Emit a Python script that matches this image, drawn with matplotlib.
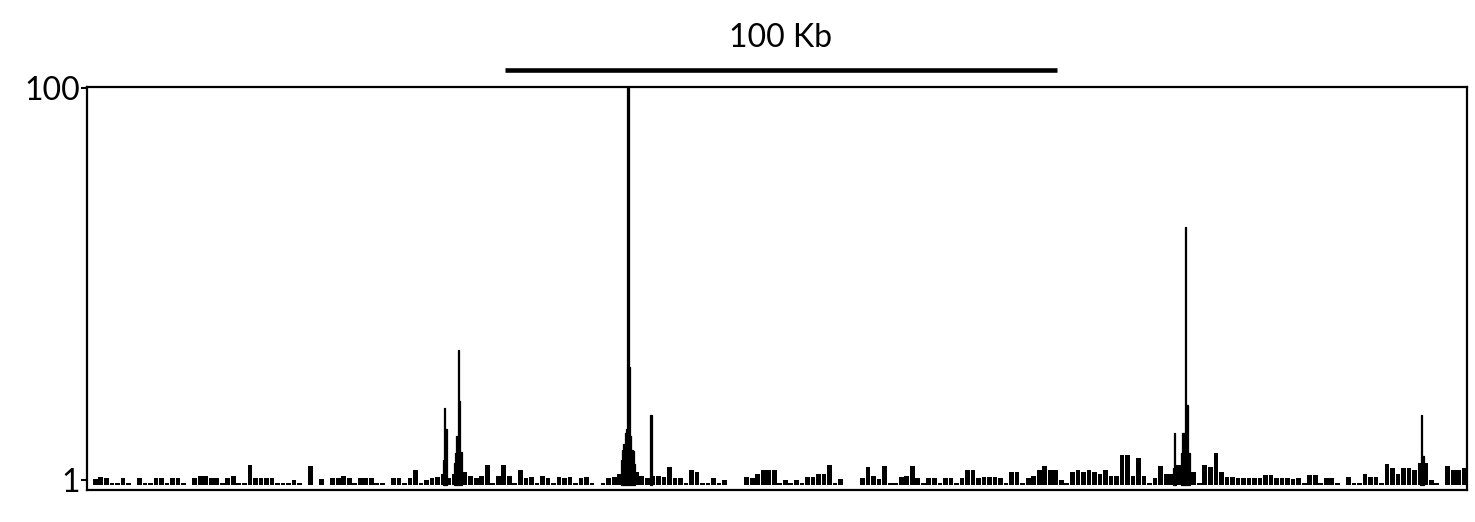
"""
plot.py — genome browser style coverage track (250 Kb window) with 100 Kb scale bar
"""
import numpy as np
import matplotlib; matplotlib.use('Agg')
import matplotlib.pyplot as plt
import matplotlib.transforms as mtransforms

plt.rcParams['font.family'] = ['Lato', 'DejaVu Sans']

WINDOW_KB = 250
SCALE_BAR_KB = (75.7, 175.7)
SCALE_LABEL = '100 Kb'
Y_TICKS = [1, 100]
Y_TICK_LABELS = ['1', '100']

# background signal, one value per 1 Kb bin (0 = no coverage)
BG_000_049 = [0, 1.2, 1.8, 1.5, 0.3, 0.3, 1.5, 0.3, 0, 1.5,
              0.3, 0.3, 1.5, 1.5, 0.3, 1.5, 1.5, 0.3, 0, 1.5,
              2, 2, 1.5, 1.5, 0.3, 1.5, 2, 0.3, 0.3, 4.8,
              1.5, 1.5, 1.5, 1.5, 0.3, 0.3, 0.3, 1.0, 0.3, 0,
              4.5, 0, 1.2, 0, 1.5, 1.5, 2, 1.5, 0.3, 1.5]
BG_050_099 = [1.5, 1.5, 0.3, 0.3, 0, 1.5, 1.5, 0.3, 1.5, 3.5,
              0.3, 1.0, 1.5, 1.8, 2.5, 1.5, 2.5, 3, 3, 2,
              1.5, 2, 4.8, 0.3, 2, 4.8, 2, 0.3, 3.5, 1.5,
              1.8, 0.3, 2, 1.5, 0.3, 1.8, 1.5, 1.8, 0.3, 1.5,
              1.8, 0.3, 0, 0.3, 1.5, 1.8, 2.5, 4, 5, 3]
BG_100_149 = [2, 1.5, 2, 2, 1.8, 4.3, 1.5, 1.5, 0.3, 3.5,
              3, 0.3, 0.3, 1.5, 0.3, 1, 0, 0, 0, 1.8,
              1.5, 2.5, 3.5, 3.5, 3.5, 0.3, 1, 0.3, 1, 0.3,
              1.8, 1.8, 2.5, 2.5, 4.8, 0.3, 1.2, 0, 0, 0,
              1.5, 4.3, 2, 1.2, 4.5, 0.3, 0.3, 1.8, 2, 4.5]
BG_150_199 = [1.5, 0.3, 1.5, 1.5, 0.3, 1.5, 1.5, 0.3, 1.5, 3.6,
              3.6, 1.5, 1.8, 1.8, 1.8, 1.5, 0.3, 3, 3, 0.3,
              1.5, 2, 3.6, 4.5, 3.6, 3.6, 1, 0.3, 3, 3.6,
              3, 3.6, 3, 2.5, 3.5, 2, 2, 7.3, 7.3, 2,
              6.6, 2, 0.3, 1.5, 4.5, 2.5, 2.5, 4.8, 4.8, 4.3]
BG_200_249 = [3, 0.3, 4.8, 4.3, 7.8, 3, 1.8, 1.8, 1.5, 1.5,
              1.5, 1.5, 1.5, 2.2, 2.2, 1.5, 1.5, 1.5, 1.2, 1.5,
              0.3, 2.3, 2.3, 0.3, 1.5, 1.5, 0.3, 0, 1.8, 0.3,
              0.3, 2.5, 1.8, 1.8, 0.3, 5, 4, 2.5, 4, 4,
              3.5, 5.3, 5.3, 1, 0.3, 0, 4.5, 3.5, 3.5, 4]

# sharp peaks, sampled every 0.25 Kb (Kb, signal)
PEAK_A_KB = [64.5, 64.75, 65.0, 65.25]
PEAK_A_VAL = [6, 19.2, 14, 5]
PEAK_B_KB = [66.5, 66.75, 67.0, 67.25, 67.5, 67.75, 68.0]
PEAK_B_VAL = [5.3, 7.8, 12, 33.8, 21, 8, 5.3]
PEAK_C_KB = [96.75, 97.0, 97.25, 97.5, 97.75, 98.0, 98.25, 98.5, 98.75, 99.0, 99.25]
PEAK_C_VAL = [6, 8.6, 10, 12.9, 14, 100, 29.6, 12, 8.6, 8.2, 5]
PEAK_D_KB = [101.9, 102.15, 102.4]
PEAK_D_VAL = [4, 17.4, 5]
PEAK_E_KB = [196.8, 197.05, 197.3]
PEAK_E_VAL = [4, 12.9, 4.8]
PEAK_F_KB = [198.25, 198.5, 198.75, 199.0, 199.25, 199.5, 199.75]
PEAK_F_VAL = [7.8, 12.9, 12.9, 65, 20, 7.8, 7.8]
PEAK_G_KB = [241.5, 241.75, 242.0, 242.25]
PEAK_G_VAL = [5.3, 17.4, 7, 5]

BASE = -0.2


def main():
    fig = plt.figure(figsize=(14.75, 5.22), dpi=100)
    ax = fig.add_axes([0.059, 0.0613, 0.9356, 0.772])

    bg = np.array(BG_000_049 + BG_050_099 + BG_100_149 + BG_150_199 + BG_200_249, dtype=float)
    kb = np.arange(len(bg)) + 0.5
    keep = bg > 0
    ax.bar(kb[keep], bg[keep] - BASE, bottom=BASE, width=0.85, color='black', linewidth=0)

    peaks = [(PEAK_A_KB, PEAK_A_VAL), (PEAK_B_KB, PEAK_B_VAL), (PEAK_C_KB, PEAK_C_VAL),
             (PEAK_D_KB, PEAK_D_VAL), (PEAK_E_KB, PEAK_E_VAL), (PEAK_F_KB, PEAK_F_VAL),
             (PEAK_G_KB, PEAK_G_VAL)]
    for px, pv in peaks:
        ax.fill_between(px, BASE, pv, step='mid', color='black',
                        linewidth=0.9, edgecolor='black')

    ax.set_xlim(0, WINDOW_KB)
    ax.set_ylim(-1.53, 100.25)
    ax.set_xticks([])
    ax.set_yticks(Y_TICKS)
    ax.set_yticklabels(Y_TICK_LABELS, fontsize=23)
    ax.tick_params(axis='y', length=4, width=1.5, pad=1, direction='out')
    for sp in ax.spines.values():
        sp.set_linewidth(1.6)
        sp.set_color('black')

    # scale bar above the track
    trans = mtransforms.blended_transform_factory(ax.transData, ax.transAxes)
    ax.plot(SCALE_BAR_KB, [1.042, 1.042], color='black', linewidth=3.3,
            solid_capstyle='butt', transform=trans, clip_on=False)
    ax.text(np.mean(SCALE_BAR_KB), 1.122, SCALE_LABEL, transform=trans,
            ha='center', va='center', fontsize=23)

    fig.savefig('out.png', dpi=100)
    plt.close(fig)


if __name__ == '__main__':
    main()
